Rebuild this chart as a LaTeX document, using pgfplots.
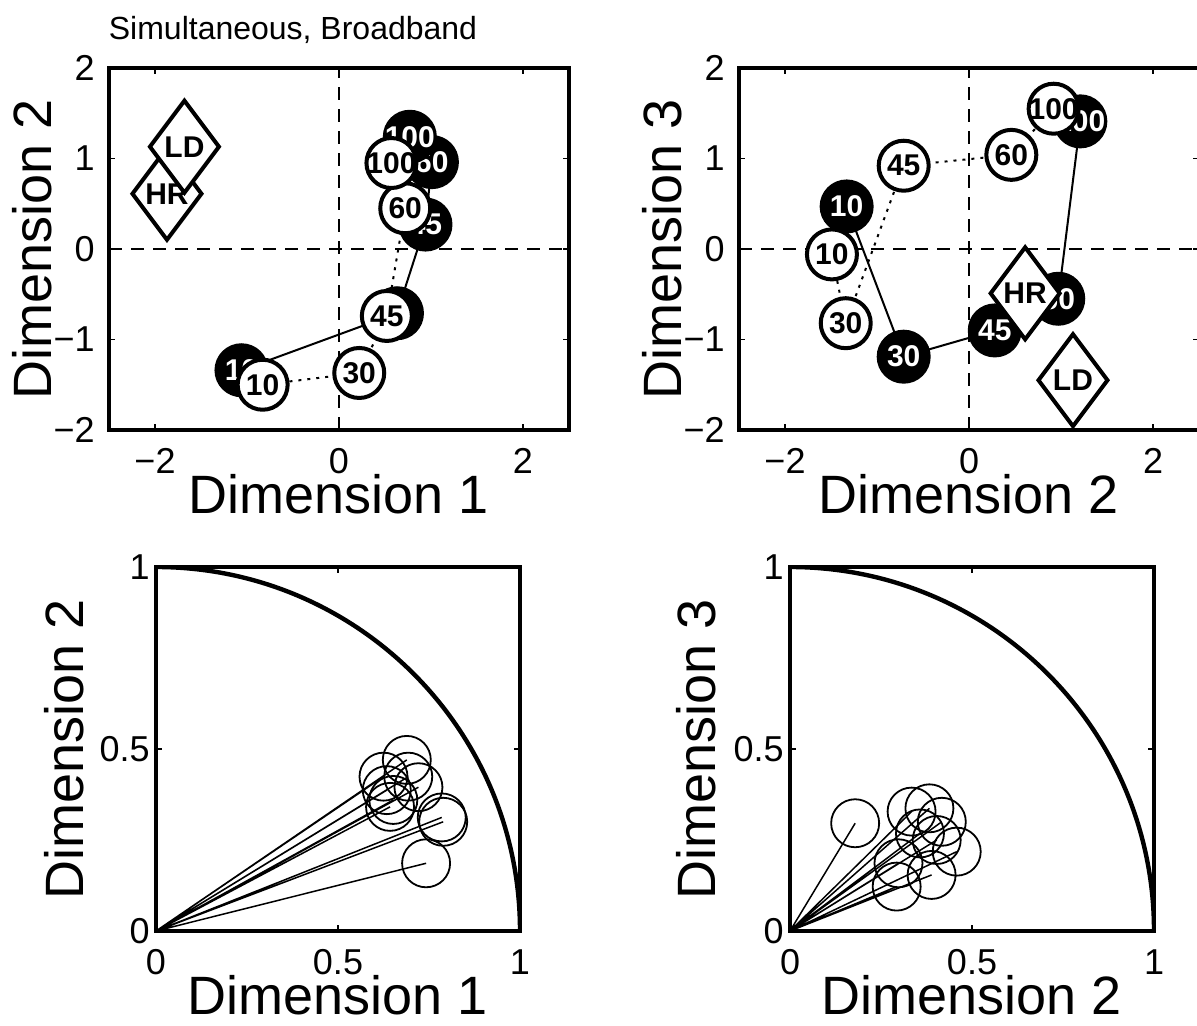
\documentclass[border=0pt]{standalone}
\usepackage{pgfplots}
\pgfplotsset{compat=1.18}
\usepackage{fontspec}
\setmainfont{Liberation Sans}
\setsansfont{Liberation Sans}
\newcommand{\tickfont}{\fontsize{18}{21}\selectfont}
\newcommand{\titlefont}{\fontsize{16}{19}\selectfont}
\newcommand{\axlbl}{\fontsize{27}{32}\selectfont}
\newcommand{\lbl}{\fontsize{15}{18}\selectfont\bfseries}
\pgfplotsset{
  base/.style={
    scale only axis, anchor=south west,
    axis line style={line width=2.2pt},
    tick align=inside, major tick length=3pt,
    tick style={line width=0.8pt, black},
    ticklabel style={font=\tickfont},
    xticklabel style={anchor=north, inner sep=0pt, yshift=-9pt},
    every axis x label/.style={at={(axis description cs:0.5,0)}, anchor=north, yshift=-22pt, inner sep=0pt, font=\axlbl},
  },
  top/.style={base, width=230pt, height=181pt,
    xmin=-2.5, xmax=2.5, ymin=-2, ymax=2,
    yticklabel style={anchor=east, inner sep=0pt, xshift=-7pt},
    xtick={-2,0,2}, xticklabels={−2,0,2},
    ytick={-2,-1,0,1,2}, yticklabels={−2,−1,0,1,2},
    every axis y label/.style={at={(axis description cs:-0.124,0.5)}, rotate=90, anchor=base, inner sep=0pt, font=\axlbl},
  },
  bot/.style={base, width=182pt, height=182pt,
    xmin=0, xmax=1, ymin=0, ymax=1,
    yticklabel style={anchor=east, inner sep=0pt, xshift=-3pt},
    xtick={0,0.5,1}, xticklabels={0,0.5,1},
    ytick={0,0.5,1}, yticklabels={0,0.5,1},
  },
  zeroline/.style={line width=1pt, dash pattern=on 6.5pt off 4.5pt, forget plot},
  filledc/.style={only marks, mark=*, mark size=12.5pt,
    mark options={fill=black, draw=black, line width=2pt, solid},
    nodes near coords, point meta=explicit symbolic, nodes near coords align={center},
    every node near coord/.append style={font=\lbl, text=white, inner sep=0pt}},
  openc/.style={only marks, mark=*, mark size=12.5pt,
    mark options={fill=white, draw=black, line width=2pt, solid},
    nodes near coords, point meta=explicit symbolic, nodes near coords align={center},
    every node near coord/.append style={font=\lbl, text=black, inner sep=0pt}},
  diam/.style={only marks, mark=diamond*, mark size=23pt,
    mark options={fill=white, draw=black, line width=2pt, solid},
    nodes near coords, point meta=explicit symbolic, nodes near coords align={center},
    every node near coord/.append style={font=\lbl, text=black, inner sep=0pt}},
}
\begin{document}
\begin{tikzpicture}
% ---------------- top left ----------------
\begin{axis}[top, at={(54.5pt,298pt)},
  xlabel={Dimension 1}, ylabel={Dimension 2},
  title={Simultaneous, Broadband},
  title style={at={(axis description cs:0.40,1)}, anchor=base, yshift=8pt, font=\titlefont, inner sep=0pt}]
\addplot[zeroline] coordinates {(0,-2) (0,2)};
\addplot[zeroline] coordinates {(-2.5,0) (2.5,0)};
\addplot[line width=1pt, dash pattern=on 1.5pt off 3pt] table {
x y
-0.83 -1.50
0.22 -1.37
0.52 -0.74
0.72 0.45
0.57 0.95
};
\addplot[line width=1pt] table {
x y
-1.06 -1.34
0.63 -0.71
0.94 0.27
1.01 0.96
0.77 1.24
};
\addplot[filledc] table[meta=l] {
x y l
-1.06 -1.34 10
0.63 -0.71 30
0.94 0.27 45
1.01 0.96 60
0.77 1.24 100
};
\addplot[openc] table[meta=l] {
x y l
-0.83 -1.50 10
0.22 -1.37 30
0.52 -0.74 45
0.72 0.45 60
0.57 0.95 100
};
\addplot[diam] table[meta=l] {
x y l
-1.87 0.61 HR
};
\addplot[diam] table[meta=l] {
x y l
-1.68 1.13 LD
};
\end{axis}
% ---------------- top right ----------------
\begin{axis}[top, at={(369.5pt,298pt)},
  xlabel={Dimension 2}, ylabel={Dimension 3}]
\addplot[zeroline] coordinates {(0,-2) (0,2)};
\addplot[zeroline] coordinates {(-2.5,0) (2.5,0)};
\addplot[line width=1pt, dash pattern=on 1.5pt off 3pt] table {
x y
-1.49 -0.06
-1.34 -0.82
-0.71 0.92
0.46 1.04
0.92 1.55
};
\addplot[line width=1pt] table {
x y
-1.33 0.47
-0.71 -1.19
0.28 -0.90
0.97 -0.55
1.21 1.41
};
\addplot[filledc] table[meta=l] {
x y l
-1.33 0.47 10
-0.71 -1.19 30
0.28 -0.90 45
0.97 -0.55 60
1.21 1.41 100
};
\addplot[openc] table[meta=l] {
x y l
-1.49 -0.06 10
-1.34 -0.82 30
-0.71 0.92 45
0.46 1.04 60
0.92 1.55 100
};
\addplot[diam] table[meta=l] {
x y l
0.61 -0.49 HR
};
\addplot[diam] table[meta=l] {
x y l
1.13 -1.45 LD
};
\end{axis}
% ---------------- bottom left ----------------
\begin{axis}[bot, at={(78pt,47.5pt)},
  xlabel={Dimension 1}, ylabel={Dimension 2},
  every axis y label/.style={at={(axis description cs:-0.2,0.5)}, rotate=90, anchor=base, inner sep=0pt, font=\axlbl}]
\draw[line width=2.2pt] (axis cs:1,0) arc[start angle=0, end angle=90, radius=1];
\addplot[line width=0.75pt, unbounded coords=jump] table {
x y
0 0
0.742 0.186
nan nan
0 0
0.789 0.300
nan nan
0 0
0.785 0.312
nan nan
0 0
0.721 0.395
nan nan
0 0
0.689 0.470
nan nan
0 0
0.625 0.424
nan nan
0 0
0.634 0.387
nan nan
0 0
0.652 0.360
nan nan
0 0
0.693 0.424
nan nan
0 0
0.643 0.341
};
\addplot[only marks, mark=o, mark size=12pt, mark options={line width=0.9pt}] table {
x y
0.742 0.186
0.789 0.300
0.785 0.312
0.721 0.395
0.689 0.470
0.625 0.424
0.634 0.387
0.652 0.360
0.693 0.424
0.643 0.341
};
\end{axis}
% ---------------- bottom right ----------------
\begin{axis}[bot, at={(395pt,47.5pt)},
  xlabel={Dimension 2}, ylabel={Dimension 3},
  every axis y label/.style={at={(axis description cs:-0.205,0.5)}, rotate=90, anchor=base, inner sep=0pt, font=\axlbl}]
\draw[line width=2.2pt] (axis cs:1,0) arc[start angle=0, end angle=90, radius=1];
\addplot[line width=0.75pt, unbounded coords=jump] table {
x y
0 0
0.179 0.296
nan nan
0 0
0.334 0.328
nan nan
0 0
0.383 0.337
nan nan
0 0
0.417 0.300
nan nan
0 0
0.357 0.268
nan nan
0 0
0.403 0.250
nan nan
0 0
0.458 0.218
nan nan
0 0
0.298 0.186
nan nan
0 0
0.389 0.154
nan nan
0 0
0.293 0.122
};
\addplot[only marks, mark=o, mark size=12pt, mark options={line width=0.9pt}] table {
x y
0.179 0.296
0.334 0.328
0.383 0.337
0.417 0.300
0.357 0.268
0.403 0.250
0.458 0.218
0.298 0.186
0.389 0.154
0.293 0.122
};
\end{axis}
\pgfresetboundingbox
\path[use as bounding box] (0pt,0pt) rectangle (598.5pt,513pt);
\end{tikzpicture}
\end{document}
